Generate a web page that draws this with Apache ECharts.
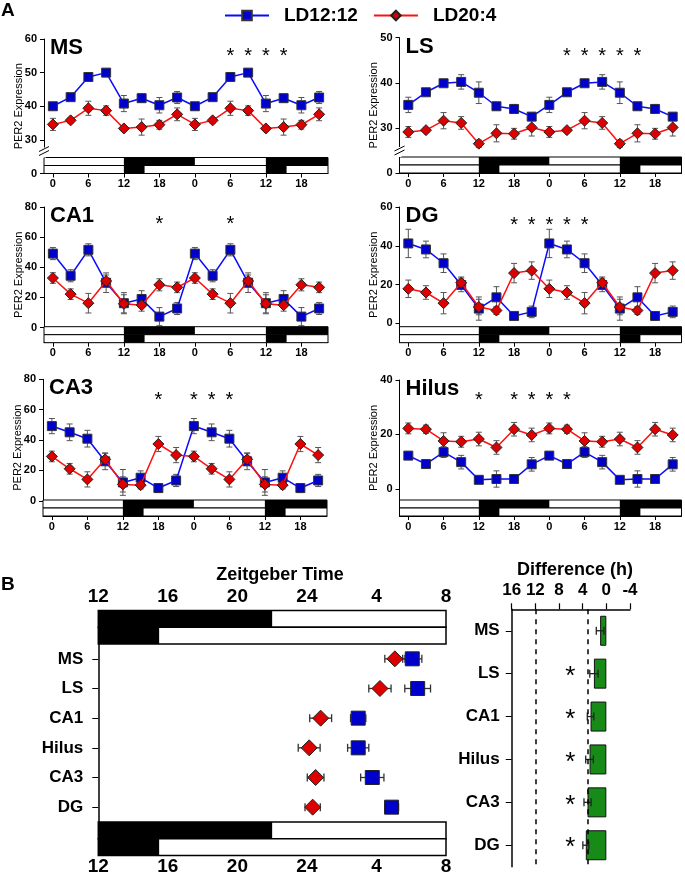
<!DOCTYPE html>
<html>
<head>
<meta charset="utf-8">
<script src="https://cdn.jsdelivr.net/npm/echarts@6/dist/echarts.min.js"></script>
<style>
  html, body { margin: 0; padding: 0; background: #fff; }
  #main { width: 685px; height: 876px; }
</style>
</head>
<body>
<div id="main"></div>
<script>
// ---- data (panel A: PER2 expression, double plotted over 48 h) ----
const hours = [0, 3, 6, 9, 12, 15, 18, 21, 24, 27, 30, 33, 36, 39, 42, 45];
const hourTicks = [0, 6, 12, 18, 24, 30, 36, 42];
const hourLabels = ['0', '6', '12', '18', '0', '6', '12', '18'];

const msBlue = [40.0, 42.7, 48.7, 50.0, 40.8, 42.4, 40.3, 42.6, 40.0, 42.7, 48.7, 50.0, 40.8, 42.4, 40.3, 42.6];
const msBlueErr = [0.5, 0.6, 0.6, 0.5, 2.4, 1.2, 2.3, 1.8, 0.5, 0.6, 0.6, 0.5, 2.4, 1.2, 2.3, 1.8];
const msRed = [34.6, 35.8, 39.4, 38.7, 33.4, 33.8, 34.5, 37.6, 34.6, 35.8, 39.4, 38.7, 33.4, 33.8, 34.5, 37.6];
const msRedErr = [1.8, 0.8, 2.1, 1.4, 0.7, 2.4, 1.3, 1.9, 1.8, 0.8, 2.1, 1.4, 0.7, 2.4, 1.3, 1.9];

const lsBlue = [35.1, 37.9, 39.9, 40.2, 37.8, 34.8, 34.2, 32.5, 35.1, 37.9, 39.9, 40.2, 37.8, 34.8, 34.2, 32.5];
const lsBlueErr = [1.7, 0.4, 0.5, 1.6, 2.4, 0.8, 1.0, 0.4, 1.7, 0.4, 0.5, 1.6, 2.4, 0.8, 1.0, 0.4];
const lsRed = [29.1, 29.5, 31.6, 31.1, 26.5, 28.8, 28.7, 30.1, 29.1, 29.5, 31.6, 31.1, 26.5, 28.8, 28.7, 30.1];
const lsRedErr = [1.2, 0.5, 1.8, 1.4, 0.8, 1.9, 1.2, 1.9, 1.2, 0.5, 1.8, 1.4, 0.8, 1.9, 1.2, 1.9];

const ca1Blue = [49.1, 34.4, 51.6, 29.8, 16.2, 19.0, 7.3, 12.7, 49.1, 34.4, 51.6, 29.8, 16.2, 19.0, 7.3, 12.7];
const ca1BlueErr = [4, 4, 4, 6.5, 7, 5.5, 6, 4, 4, 4, 4, 6.5, 7, 5.5, 6, 4];
const ca1Red = [32.9, 22.2, 16.2, 30.9, 15.8, 14.9, 28.4, 26.7, 32.9, 22.2, 16.2, 30.9, 15.8, 14.9, 28.4, 26.7];
const ca1RedErr = [3.5, 3.5, 6.5, 4, 6, 4, 4, 3.5, 3.5, 3.5, 6.5, 4, 6, 4, 4, 3.5];

const dgBlue = [41.2, 38.1, 31.0, 19.8, 7.6, 13.4, 3.8, 5.9, 41.2, 38.1, 31.0, 19.8, 7.6, 13.4, 3.8, 5.9];
const dgBlueErr = [7.3, 4.3, 4.8, 3.5, 6, 5.5, 2, 3, 7.3, 4.3, 4.8, 3.5, 6, 5.5, 2, 3];
const dgRed = [17.8, 15.9, 10.4, 20.9, 8.4, 6.6, 25.9, 27.2, 17.8, 15.9, 10.4, 20.9, 8.4, 6.6, 25.9, 27.2];
const dgRedErr = [4.5, 3.5, 5.5, 3, 4, 2, 5, 4.5, 4.5, 3.5, 5.5, 3, 4, 2, 5, 4.5];

const ca3Blue = [49.2, 45.1, 40.9, 26.0, 12.1, 15.2, 8.4, 13.4, 49.2, 45.1, 40.9, 26.0, 12.1, 15.2, 8.4, 13.4];
const ca3BlueErr = [5, 5.5, 5.5, 5.5, 8.5, 4.5, 3, 4, 5, 5.5, 5.5, 5.5, 8.5, 4.5, 3, 4];
const ca3Red = [29.2, 21.1, 14.1, 27.3, 10.8, 10.3, 37.4, 30.1, 29.2, 21.1, 14.1, 27.3, 10.8, 10.3, 37.4, 30.1];
const ca3RedErr = [3.5, 3.5, 5, 4, 5, 2.5, 5, 5, 3.5, 3.5, 5, 4, 5, 2.5, 5, 5];

const hilusBlue = [12.2, 9.1, 13.5, 9.8, 3.3, 3.6, 3.6, 9.0, 12.2, 9.1, 13.5, 9.8, 3.3, 3.6, 3.6, 9.0];
const hilusBlueErr = [1, 1.5, 2, 2.5, 0.5, 3, 0.8, 2.5, 1, 1.5, 2, 2.5, 0.5, 3, 0.8, 2.5];
const hilusRed = [22.2, 21.9, 17.6, 17.3, 18.3, 15.2, 21.9, 19.8, 22.2, 21.9, 17.6, 17.3, 18.3, 15.2, 21.9, 19.8];
const hilusRedErr = [2, 1.5, 3, 2, 2.5, 2.5, 2.5, 2.5, 2, 1.5, 3, 2, 2.5, 2.5, 2.5, 2.5];

// significance marks (hour of the double plot)
const msStars = [30, 33, 36, 39];
const lsStars = [27, 30, 33, 36, 39];
const ca1Stars = [18, 30];
const dgStars = [18, 21, 24, 27, 30];
const ca3Stars = [18, 24, 27, 30];
const hilusStars = [12, 18, 21, 24, 27];

// light/dark bars: dark intervals, row 0 = LD12:12, row 1 = LD20:4
const ldDarkA = [[[12, 24], [36, 48]], [[12, 15.5], [36, 39.5]]];
const ldDarkB = [[[12, 22]], [[12, 15.5]]];

// ---- data (panel B) ----
const regionsB = ['MS', 'LS', 'CA1', 'Hilus', 'CA3', 'DG'];
const phase1212 = [30.06, 30.37, 26.95, 26.95, 27.76, 28.87];
const phase1212Err = [0.55, 0.74, 0.44, 0.61, 0.67, 0.4];
const phase204 = [29.06, 28.2, 24.79, 24.13, 24.5, 24.33];
const phase204Err = [0.58, 0.64, 0.63, 0.63, 0.48, 0.44];
const ztTicks = [12, 16, 20, 24, 28, 32];
const ztLabels = ['12', '16', '20', '24', '4', '8'];

const diffH = [1.05, 2.1, 2.67, 2.84, 3.18, 3.47];
const diffErr = [0.65, 0.7, 0.55, 0.65, 0.6, 0.5];
const diffSig = [false, true, true, true, true, true];
const diffRefLines = [12, 3.2];

// ---- style ----
const FONT = '"Liberation Sans", Arial, sans-serif';
const BLUE_LINE = '#0a0aff';
const BLUE_FILL = '#0000cc';
const RED_LINE = '#ff1010';
const RED_FILL = '#dd0000';
const ERR_COLOR = '#555';

const panels = [
  { title: 'MS', grid: { left: 44, top: 39, width: 284, height: 134.5 }, min: 20, max: 60, yTicks: [20, 30, 40, 50, 60], broken: true,
    blue: msBlue, blueErr: msBlueErr, red: msRed, redErr: msRedErr, stars: msStars, starY: 56 },
  { title: 'LS', grid: { left: 399.5, top: 37.7, width: 282, height: 135.3 }, min: 20, max: 50, yTicks: [20, 30, 40, 50], broken: true,
    blue: lsBlue, blueErr: lsBlueErr, red: lsRed, redErr: lsRedErr, stars: lsStars, starY: 46.7 },
  { title: 'CA1', grid: { left: 44, top: 207, width: 284, height: 135.7 }, min: -10, max: 80, yTicks: [0, 20, 40, 60, 80],
    blue: ca1Blue, blueErr: ca1BlueErr, red: ca1Red, redErr: ca1RedErr, stars: ca1Stars, starY: 71 },
  { title: 'DG', grid: { left: 399.5, top: 207, width: 282, height: 135.7 }, min: -10, max: 60, yTicks: [0, 20, 40, 60],
    blue: dgBlue, blueErr: dgBlueErr, red: dgRed, redErr: dgRedErr, stars: dgStars, starY: 52.7 },
  { title: 'CA3', grid: { left: 43, top: 379.3, width: 284, height: 136.7 }, min: -10, max: 80, yTicks: [0, 20, 40, 60, 80],
    blue: ca3Blue, blueErr: ca3BlueErr, red: ca3Red, redErr: ca3RedErr, stars: ca3Stars, starY: 68.5 },
  { title: 'Hilus', grid: { left: 399.5, top: 380, width: 282, height: 136 }, min: -10, max: 40, yTicks: [0, 20, 40],
    blue: hilusBlue, blueErr: hilusBlueErr, red: hilusRed, redErr: hilusRedErr, stars: hilusStars, starY: 34 }
];

// ---- render helpers ----
function vErr(color) {
  return function (params, api) {
    const x = api.value(0), y = api.value(1), e = api.value(2);
    const lo = api.coord([x, y - e]), hi = api.coord([x, y + e]);
    const c = 3;
    const st = { stroke: color, lineWidth: 1 };
    return { type: 'group', children: [
      { type: 'line', shape: { x1: lo[0], y1: lo[1], x2: hi[0], y2: hi[1] }, style: st },
      { type: 'line', shape: { x1: hi[0] - c, y1: hi[1], x2: hi[0] + c, y2: hi[1] }, style: st },
      { type: 'line', shape: { x1: lo[0] - c, y1: lo[1], x2: lo[0] + c, y2: lo[1] }, style: st }
    ] };
  };
}

function hErr(color, cap) {
  return function (params, api) {
    const x = api.value(0), y = api.value(1), e = api.value(2);
    const lo = api.coord([x - e, y]), hi = api.coord([x + e, y]);
    const st = { stroke: color, lineWidth: 1.3 };
    return { type: 'group', children: [
      { type: 'line', shape: { x1: lo[0], y1: lo[1], x2: hi[0], y2: hi[1] }, style: st },
      { type: 'line', shape: { x1: hi[0], y1: hi[1] - cap, x2: hi[0], y2: hi[1] + cap }, style: st },
      { type: 'line', shape: { x1: lo[0], y1: lo[1] - cap, x2: lo[0], y2: lo[1] + cap }, style: st }
    ] };
  };
}

function starText(size, dy) {
  return function (params, api) {
    const p = api.coord([api.value(0), api.value(1)]);
    return { type: 'text', x: p[0], y: p[1] + dy,
      style: { text: '*', font: size + 'px ' + FONT, fill: '#000', align: 'center', verticalAlign: 'middle' } };
  };
}

// LD bars under each panel A plot
function ldBarsA(params, api) {
  const cs = params.coordSys;
  const row = params.dataIndex;
  const h = 8;
  const top = cs.y + cs.height - 16 + row * h;
  const right = cs.x + cs.width;
  const kids = [{ type: 'rect', shape: { x: cs.x, y: top, width: cs.width, height: h },
    style: { fill: '#fff', stroke: '#000', lineWidth: 1 } }];
  ldDarkA[row].forEach(function (iv) {
    const x0 = api.coord([iv[0], 0])[0];
    const x1 = Math.min(api.coord([iv[1], 0])[0], right);
    kids.push({ type: 'rect', shape: { x: x0, y: top, width: x1 - x0, height: h }, style: { fill: '#000' } });
  });
  return { type: 'group', children: kids };
}

// LD bars above and below the phase plot
function ldBarsB(params, api) {
  const cs = params.coordSys;
  const row = params.dataIndex;
  const h = 16.7;
  const right = cs.x + cs.width;
  const kids = [];
  [cs.y - 2 * h + row * h, cs.y + cs.height + row * h].forEach(function (top) {
    kids.push({ type: 'rect', shape: { x: cs.x, y: top, width: cs.width, height: h },
      style: { fill: '#fff', stroke: '#000', lineWidth: 1.5 } });
    ldDarkB[row].forEach(function (iv) {
      const x0 = api.coord([iv[0], 0])[0];
      const x1 = Math.min(api.coord([iv[1], 0])[0], right);
      kids.push({ type: 'rect', shape: { x: x0, y: top, width: x1 - x0, height: h }, style: { fill: '#000' } });
    });
  });
  return { type: 'group', children: kids };
}

// axis break marks for the broken y axes
function axisBreak(params) {
  const cs = params.coordSys;
  const x = cs.x, b = cs.y + cs.height;
  const st = { stroke: '#000', lineWidth: 1 };
  return { type: 'group', children: [
    { type: 'rect', shape: { x: x - 2, y: b - 26, width: 4, height: 10 }, style: { fill: '#fff' } },
    { type: 'line', shape: { x1: x - 5, y1: b - 22, x2: x + 5, y2: b - 27 }, style: st },
    { type: 'line', shape: { x1: x - 5, y1: b - 18, x2: x + 5, y2: b - 23 }, style: st }
  ] };
}

// ---- build option ----
const grids = [], xAxes = [], yAxes = [], series = [], graphics = [];
const boldLabel = { color: '#000', fontFamily: FONT, fontWeight: 'bold' };

panels.forEach(function (p, i) {
  grids.push(Object.assign({ containLabel: false }, p.grid));
  xAxes.push({
    gridIndex: i, type: 'value', min: -1.5, max: 46.5,
    axisLine: { onZero: false, lineStyle: { color: '#000', width: 1 } },
    axisTick: { show: true, length: 4, customValues: hourTicks, lineStyle: { color: '#000' } },
    axisLabel: Object.assign({ customValues: hourTicks, fontSize: 11, margin: 5,
      formatter: function (v) { return hourLabels[hourTicks.indexOf(v)]; } }, boldLabel),
    splitLine: { show: false }
  });
  yAxes.push({
    gridIndex: i, type: 'value', min: p.min, max: p.max,
    axisLine: { show: true, onZero: false, lineStyle: { color: '#000', width: 1 } },
    axisTick: { show: true, length: 4, customValues: p.yTicks, lineStyle: { color: '#000' } },
    axisLabel: Object.assign({ customValues: p.yTicks, fontSize: 11, margin: 7,
      formatter: function (v) { return (p.broken && v === p.min) ? '0' : String(v); } }, boldLabel),
    splitLine: { show: false },
    name: 'PER2 Expression', nameLocation: 'middle', nameGap: 20, nameMoveOverlap: false,
    nameTextStyle: { fontSize: 11, color: '#000', fontFamily: FONT }
  });

  series.push({
    type: 'custom', name: 'errBlue' + i, xAxisIndex: i, yAxisIndex: i, z: 2, silent: true,
    renderItem: vErr(ERR_COLOR), data: hours.map(function (h, k) { return [h, p.blue[k], p.blueErr[k]]; })
  });
  series.push({
    type: 'custom', name: 'errRed' + i, xAxisIndex: i, yAxisIndex: i, z: 2, silent: true,
    renderItem: vErr(ERR_COLOR), data: hours.map(function (h, k) { return [h, p.red[k], p.redErr[k]]; })
  });
  series.push({
    type: 'line', name: 'LD12:12', xAxisIndex: i, yAxisIndex: i, z: 3,
    symbol: 'rect', symbolSize: 9,
    lineStyle: { color: BLUE_LINE, width: 1.5 },
    itemStyle: { color: BLUE_FILL, borderColor: '#333', borderWidth: 1 },
    data: hours.map(function (h, k) { return [h, p.blue[k]]; })
  });
  series.push({
    type: 'line', name: 'LD20:4', xAxisIndex: i, yAxisIndex: i, z: 4,
    symbol: 'diamond', symbolSize: 11,
    lineStyle: { color: RED_LINE, width: 1.5 },
    itemStyle: { color: RED_FILL, borderColor: '#222', borderWidth: 1 },
    data: hours.map(function (h, k) { return [h, p.red[k]]; })
  });
  series.push({
    type: 'custom', name: 'stars' + i, xAxisIndex: i, yAxisIndex: i, z: 5, silent: true,
    renderItem: starText(20, 4), data: p.stars.map(function (h) { return [h, p.starY]; })
  });
  series.push({
    type: 'custom', name: 'ld' + i, xAxisIndex: i, yAxisIndex: i, z: 5, silent: true,
    renderItem: ldBarsA, data: ldDarkA.map(function (r, k) { return [k, p.min]; })
  });
  if (p.broken) {
    series.push({
      type: 'custom', name: 'break' + i, xAxisIndex: i, yAxisIndex: i, z: 6, silent: true,
      renderItem: axisBreak, data: [[0, p.min]]
    });
  }

  graphics.push({
    type: 'text', x: p.grid.left + 6, y: p.grid.top + 9,
    style: { text: p.title, font: 'bold 22px ' + FONT, fill: '#000', align: 'left', verticalAlign: 'middle' }
  });
});

// panel B left: phase plot
grids.push({ left: 98.3, top: 644, width: 347.7, height: 180.3 });
xAxes.push({
  gridIndex: 6, type: 'value', position: 'top', min: 12, max: 32, interval: 4,
  axisLine: { show: false }, axisTick: { show: false }, splitLine: { show: false },
  axisLabel: Object.assign({ fontSize: 19, margin: 38,
    formatter: function (v) { return ztLabels[ztTicks.indexOf(v)]; } }, boldLabel)
});
xAxes.push({
  gridIndex: 6, type: 'value', position: 'bottom', min: 12, max: 32, interval: 4,
  axisLine: { show: false }, axisTick: { show: false }, splitLine: { show: false },
  axisLabel: Object.assign({ fontSize: 19, margin: 35,
    formatter: function (v) { return ztLabels[ztTicks.indexOf(v)]; } }, boldLabel)
});
yAxes.push({
  gridIndex: 6, type: 'category', data: regionsB, inverse: true,
  axisLine: { show: true, lineStyle: { color: '#000', width: 1.5 } },
  axisTick: { show: true, alignWithLabel: true, length: 6, lineStyle: { color: '#000' } },
  axisLabel: Object.assign({ fontSize: 17, margin: 15 }, boldLabel),
  splitLine: { show: false }
});

series.push({
  type: 'custom', name: 'ldB', xAxisIndex: 6, yAxisIndex: 6, z: 5, silent: true,
  renderItem: ldBarsB, data: ldDarkB.map(function (r, k) { return [12, k]; })
});
series.push({
  type: 'custom', name: 'errB1', xAxisIndex: 6, yAxisIndex: 6, z: 2, silent: true,
  renderItem: hErr('#333', 4), data: regionsB.map(function (r, k) { return [phase1212[k], k, phase1212Err[k]]; })
});
series.push({
  type: 'custom', name: 'errB2', xAxisIndex: 6, yAxisIndex: 6, z: 2, silent: true,
  renderItem: hErr('#333', 4), data: regionsB.map(function (r, k) { return [phase204[k], k, phase204Err[k]]; })
});
series.push({
  type: 'scatter', name: 'LD12:12', xAxisIndex: 6, yAxisIndex: 6, z: 3,
  symbol: 'rect', symbolSize: 14,
  itemStyle: { color: BLUE_FILL, borderColor: '#222', borderWidth: 1, opacity: 1 },
  data: regionsB.map(function (r, k) { return [phase1212[k], k]; })
});
series.push({
  type: 'scatter', name: 'LD20:4', xAxisIndex: 6, yAxisIndex: 6, z: 3,
  symbol: 'diamond', symbolSize: 16,
  itemStyle: { color: RED_FILL, borderColor: '#222', borderWidth: 1, opacity: 1 },
  data: regionsB.map(function (r, k) { return [phase204[k], k]; })
});

// panel B right: phase difference
grids.push({ left: 511.7, top: 609.3, width: 118.3, height: 257.4 });
xAxes.push({
  gridIndex: 7, type: 'value', position: 'top', min: -4, max: 16, interval: 4, inverse: true,
  axisLine: { show: true, onZero: false, lineStyle: { color: '#000', width: 1.5 } },
  axisTick: { show: true, inside: false, length: 6, lineStyle: { color: '#000', width: 1.2 } },
  axisLabel: Object.assign({ fontSize: 17, margin: 10 }, boldLabel),
  splitLine: { show: false }
});
yAxes.push({
  gridIndex: 7, type: 'category', data: regionsB, inverse: true,
  axisLine: { show: true, onZero: false, lineStyle: { color: '#000', width: 1.5 } },
  axisTick: { show: true, alignWithLabel: true, length: 6, lineStyle: { color: '#000' } },
  axisLabel: Object.assign({ fontSize: 17, margin: 12 }, boldLabel),
  splitLine: { show: false }
});
series.push({
  type: 'bar', name: 'diff', xAxisIndex: 8, yAxisIndex: 7, z: 2, barWidth: 30,
  itemStyle: { color: '#178a17', borderColor: '#111', borderWidth: 1 },
  data: diffH,
  markLine: {
    silent: true, symbol: 'none', label: { show: false },
    lineStyle: { color: '#000', type: [5, 5], width: 1.5 },
    data: diffRefLines.map(function (v) { return { xAxis: v }; })
  }
});
series.push({
  type: 'custom', name: 'diffErr', xAxisIndex: 8, yAxisIndex: 7, z: 4, silent: true,
  renderItem: hErr('#222', 4), data: regionsB.map(function (r, k) { return [diffH[k], k, diffErr[k]]; })
});
series.push({
  type: 'custom', name: 'diffStars', xAxisIndex: 8, yAxisIndex: 7, z: 5, silent: true,
  renderItem: starText(26, 3),
  data: regionsB.map(function (r, k) { return [6.1, k]; }).filter(function (d, k) { return diffSig[k]; })
});

// panel letters and titles
graphics.push({ type: 'text', x: 1, y: 11, style: { text: 'A', font: 'bold 19px ' + FONT, fill: '#000', verticalAlign: 'middle' } });
graphics.push({ type: 'text', x: 1, y: 585, style: { text: 'B', font: 'bold 19px ' + FONT, fill: '#000', verticalAlign: 'middle' } });
graphics.push({ type: 'text', x: 280, y: 575, style: { text: 'Zeitgeber Time', font: 'bold 18px ' + FONT, fill: '#000', align: 'center', verticalAlign: 'middle' } });
graphics.push({ type: 'text', x: 575, y: 570, style: { text: 'Difference (h)', font: 'bold 18px ' + FONT, fill: '#000', align: 'center', verticalAlign: 'middle' } });

const option = {
  backgroundColor: '#fff',
  animation: false,
  textStyle: { fontFamily: FONT },
  legend: {
    data: ['LD12:12', 'LD20:4'], top: 1, left: 219,
    itemWidth: 44, itemHeight: 12, itemGap: 15,
    textStyle: { fontSize: 19, fontWeight: 'bold', color: '#000', fontFamily: FONT, padding: [0, 0, 0, 10] },
    selectedMode: false
  },
  grid: grids,
  xAxis: xAxes,
  yAxis: yAxes,
  series: series,
  graphic: graphics
};

const chart = echarts.init(document.getElementById('main'));
chart.setOption(option);
</script>
</body>
</html>
